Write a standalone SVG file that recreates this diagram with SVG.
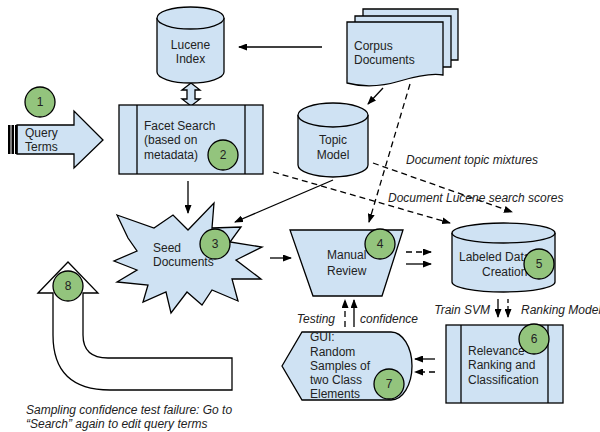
<svg xmlns="http://www.w3.org/2000/svg" width="600" height="432" viewBox="0 0 600 432">
<style>
.shape{fill:#cfe2f3;stroke:#000;stroke-width:1.3}
.num{fill:#93c47d;stroke:#000;stroke-width:1.3}
.t{font-family:"Liberation Sans",Arial,sans-serif;font-size:12px;fill:#222}
.i{font-family:"Liberation Sans",Arial,sans-serif;font-size:12px;font-style:italic;fill:#222}
.n{font-family:"Liberation Sans",Arial,sans-serif;font-size:12px;fill:#222;text-anchor:middle}
.c{text-anchor:middle}
.ln{stroke:#000;stroke-width:1.3;fill:none}
.d{stroke-dasharray:6,4}
</style>
<defs>
<marker id="ah" markerUnits="userSpaceOnUse" markerWidth="9" markerHeight="7" refX="8" refY="3.5" orient="auto">
<path d="M0,0 L9,3.5 L0,7 Z" fill="#000"/>
</marker>
</defs>

<g id="connectors">
<line class="ln" x1="322" y1="47" x2="239" y2="47" marker-end="url(#ah)"/>
<line class="ln" x1="383" y1="88" x2="368" y2="104" marker-end="url(#ah)"/>
<line class="ln" x1="188" y1="181" x2="188" y2="213" marker-end="url(#ah)"/>
<line class="ln" x1="333" y1="180" x2="235" y2="222" marker-end="url(#ah)"/>
<line class="ln" x1="270" y1="258" x2="291" y2="258" marker-end="url(#ah)"/>
<line class="ln" x1="406" y1="264" x2="431" y2="264" marker-end="url(#ah)"/>
<line class="ln" x1="354" y1="327" x2="354" y2="300" marker-end="url(#ah)"/>
<line class="ln" x1="498" y1="299" x2="498" y2="317" marker-end="url(#ah)"/>
<line class="ln" x1="435" y1="359" x2="415" y2="359" marker-end="url(#ah)"/>
<line class="ln d" x1="410" y1="84" x2="369" y2="222" marker-end="url(#ah)"/>
<line class="ln d" x1="373" y1="163" x2="512" y2="212" marker-end="url(#ah)"/>
<line class="ln d" x1="273" y1="172" x2="450" y2="223" marker-end="url(#ah)"/>
<line class="ln d" x1="406" y1="252" x2="431" y2="252" marker-end="url(#ah)"/>
<line class="ln d" x1="345" y1="327" x2="345" y2="300" marker-end="url(#ah)"/>
<line class="ln" x1="508" y1="299" x2="508" y2="317" stroke-dasharray="4,3" marker-end="url(#ah)"/>
<line class="ln d" x1="435" y1="372" x2="415" y2="372" marker-end="url(#ah)"/>
<path d="M182,90 L191,83 L200,90 L195,90 L195,99 L200,99 L191,106 L182,99 L187,99 L187,90 Z" class="shape"/>
</g>

<g id="labels">
<text class="i" x="406" y="164">Document topic mixtures</text>
<text class="i" x="388" y="202">Document Lucene search scores</text>
<text class="i" x="335" y="323" text-anchor="end">Testing</text>
<text class="i" x="360" y="323">confidence</text>
<text class="i" x="490" y="314" text-anchor="end">Train SVM</text>
<text class="i" x="521" y="314">Ranking Model</text>
<text class="i" x="26" y="414">Sampling confidence test failure: Go to</text>
<text class="i" x="26" y="428">“Search” again to edit query terms</text>
</g>

<g id="lucene">
<path class="shape" d="M157,18 V72 A33.5,11 0 0 0 224,72 V18"/>
<ellipse class="shape" cx="190.5" cy="18" rx="33.5" ry="11"/>
<text class="t c" x="190.5" y="49">Lucene</text>
<text class="t c" x="190.5" y="63">Index</text>
</g>

<g id="corpus">
<path class="shape" d="M363,9 H458 V60 H363 Z"/>
<path class="shape" d="M355,16 H451 V67 H355 Z"/>
<path class="shape" d="M347,22 H443 V75 C432,73 420,75 400,81 C380,87 362,87 347,83 Z"/>
<text class="t" x="354" y="50">Corpus</text>
<text class="t" x="354" y="64">Documents</text>
</g>

<g id="query">
<path class="shape" d="M17,125 H74 V111 L103,140 L74,168 V154 H17 Z"/>
<rect x="8" y="125" width="2.5" height="29" fill="#000"/>
<rect x="11.5" y="125" width="2.5" height="29" fill="#000"/>
<rect x="15" y="125" width="2.5" height="29" fill="#000"/>
<text class="t" x="25" y="137">Query</text>
<text class="t" x="25" y="151">Terms</text>
<circle class="num" cx="40" cy="102" r="15"/>
<text class="n" x="40" y="106">1</text>
</g>

<g id="facet">
<rect class="shape" x="119" y="105" width="144" height="69"/>
<line class="ln" x1="137" y1="105" x2="137" y2="174"/>
<line class="ln" x1="245" y1="105" x2="245" y2="174"/>
<text class="t" x="144" y="130">Facet Search</text>
<text class="t" x="144" y="144">(based on</text>
<text class="t" x="144" y="159">metadata)</text>
<circle class="num" cx="223" cy="155" r="15"/>
<text class="n" x="223" y="159">2</text>
</g>

<g id="topic">
<path class="shape" d="M298,115 V165 A35,12 0 0 0 368,165 V115"/>
<ellipse class="shape" cx="333" cy="115" rx="35" ry="12"/>
<text class="t c" x="333" y="144">Topic</text>
<text class="t c" x="333" y="159">Model</text>
</g>

<g id="seed">
<polygon class="shape" points="117,215 154,228 173,215 188,230 214,203 212,228 241,227 230,242 262,247 236,260 261,279 232,279 238,301 212,290 202,305 187,292 171,313 166,292 143,302 148,285 117,282 137,270 114,261 137,251 128,238"/>
<text class="t" x="153" y="252">Seed</text>
<text class="t" x="153" y="266">Documents</text>
<circle class="num" cx="215" cy="244" r="15"/>
<text class="n" x="215" y="248">3</text>
</g>

<g id="manual">
<polygon class="shape" points="290,230 403,230 382,296 313,296"/>
<text class="t" x="327" y="259">Manual</text>
<text class="t" x="327" y="275">Review</text>
<circle class="num" cx="380" cy="244" r="15"/>
<text class="n" x="380" y="248">4</text>
</g>

<g id="labeled">
<path class="shape" d="M452,233 V282 A51.5,10 0 0 0 555,282 V233"/>
<ellipse class="shape" cx="503.5" cy="233" rx="51.5" ry="10"/>
<text class="t" x="459" y="261">Labeled Data</text>
<text class="t" x="482" y="276">Creation</text>
<circle class="num" cx="539" cy="264" r="15"/>
<text class="n" x="539" y="268">5</text>
</g>

<g id="relevance">
<rect class="shape" x="446" y="325" width="117" height="78"/>
<line class="ln" x1="461" y1="325" x2="461" y2="403"/>
<line class="ln" x1="548" y1="325" x2="548" y2="403"/>
<text class="t" x="468" y="355">Relevance</text>
<text class="t" x="468" y="369">Ranking and</text>
<text class="t" x="468" y="384">Classification</text>
<circle class="num" cx="534" cy="339" r="15"/>
<text class="n" x="534" y="343">6</text>
</g>

<g id="gui">
<path class="shape" d="M282,366 L302,332 L391,332 A21,34 0 0 1 391,400 L302,400 Z"/>
<text class="t" x="310" y="341">GUI:</text>
<text class="t" x="310" y="356">Random</text>
<text class="t" x="310" y="370">Samples of</text>
<text class="t" x="310" y="384">two Class</text>
<text class="t" x="310" y="398">Elements</text>
<circle class="num" cx="389" cy="384" r="15"/>
<text class="n" x="389" y="388">7</text>
</g>

<g id="retry">
<path d="M38,293 L68,262 L98,293 L83,293 L83,335 Q83,358 108,358 L232,358 L232,390 L110,390 Q53,390 53,335 L53,293 Z" fill="#fff" stroke="#000" stroke-width="1.3"/>
<circle class="num" cx="68" cy="286" r="15"/>
<text class="n" x="68" y="290">8</text>
</g>
</svg>
